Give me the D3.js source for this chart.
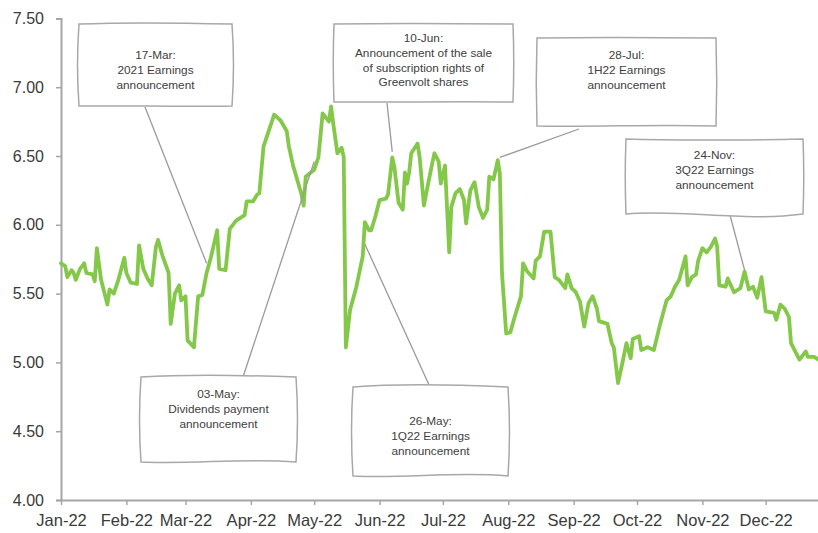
<!DOCTYPE html>
<html>
<head>
<meta charset="utf-8">
<script src="https://cdn.jsdelivr.net/npm/d3@7"></script>
<style>
  html, body { margin: 0; padding: 0; background: #fff; }
  svg { display: block; font-family: "Liberation Sans", Arial, sans-serif; }
</style>
</head>
<body>
<svg id="chart" width="818" height="533"></svg>
<script>
// ---- Data ----
const dates = [
"2022-01-01","2022-01-03","2022-01-04","2022-01-06","2022-01-07","2022-01-08","2022-01-10","2022-01-12","2022-01-13","2022-01-16",
"2022-01-17","2022-01-18","2022-01-20","2022-01-23","2022-01-24","2022-01-26","2022-01-28","2022-01-31","2022-02-01","2022-02-03",
"2022-02-06","2022-02-07","2022-02-09","2022-02-11","2022-02-13","2022-02-15","2022-02-16","2022-02-18","2022-02-21","2022-02-22",
"2022-02-24","2022-02-26","2022-02-27","2022-03-01","2022-03-02","2022-03-05","2022-03-07","2022-03-09","2022-03-11","2022-03-13",
"2022-03-16","2022-03-17","2022-03-20","2022-03-22","2022-03-25","2022-03-29","2022-03-30","2022-04-02","2022-04-04","2022-04-05",
"2022-04-07","2022-04-09","2022-04-12","2022-04-15","2022-04-18","2022-04-19","2022-04-21","2022-04-25","2022-04-26","2022-04-27",
"2022-05-01","2022-05-03","2022-05-05","2022-05-07","2022-05-08","2022-05-09","2022-05-10","2022-05-12","2022-05-14","2022-05-15",
"2022-05-16","2022-05-18","2022-05-21","2022-05-24","2022-05-25","2022-05-27","2022-05-28","2022-05-30","2022-05-31","2022-06-01",
"2022-06-04","2022-06-05","2022-06-07","2022-06-08","2022-06-10","2022-06-12","2022-06-13","2022-06-14","2022-06-15","2022-06-16",
"2022-06-19","2022-06-20","2022-06-22","2022-06-24","2022-06-26","2022-06-27","2022-06-29","2022-06-30","2022-07-02","2022-07-04",
"2022-07-05","2022-07-07","2022-07-09","2022-07-11","2022-07-12","2022-07-14","2022-07-16","2022-07-18","2022-07-20","2022-07-22",
"2022-07-23","2022-07-25","2022-07-27","2022-07-28","2022-07-29","2022-07-31","2022-08-02","2022-08-04","2022-08-07","2022-08-08",
"2022-08-10","2022-08-13","2022-08-14","2022-08-16","2022-08-18","2022-08-21","2022-08-23","2022-08-25","2022-08-28","2022-08-29",
"2022-08-31","2022-09-02","2022-09-04","2022-09-06","2022-09-08","2022-09-10","2022-09-12","2022-09-13","2022-09-17","2022-09-19",
"2022-09-20","2022-09-22","2022-09-24","2022-09-26","2022-09-28","2022-09-29","2022-10-02","2022-10-03","2022-10-06","2022-10-09",
"2022-10-12","2022-10-15","2022-10-17","2022-10-19","2022-10-21","2022-10-24","2022-10-25","2022-10-27","2022-10-29","2022-10-30",
"2022-11-01","2022-11-03","2022-11-05","2022-11-07","2022-11-08","2022-11-09","2022-11-12","2022-11-13","2022-11-16","2022-11-19",
"2022-11-21","2022-11-23","2022-11-25","2022-11-27","2022-11-29","2022-12-01","2022-12-05","2022-12-06","2022-12-08","2022-12-10",
"2022-12-12","2022-12-13","2022-12-16","2022-12-17","2022-12-20","2022-12-21","2022-12-24","2022-12-26","2022-12-30"
];
const prices = [
5.72,5.70,5.62,5.67,5.65,5.60,5.68,5.72,5.65,5.64,
5.59,5.83,5.60,5.42,5.53,5.50,5.59,5.76,5.65,5.58,
5.57,5.85,5.68,5.61,5.56,5.84,5.89,5.78,5.65,5.28,
5.50,5.56,5.45,5.48,5.16,5.11,5.48,5.49,5.65,5.76,
5.96,5.68,5.67,5.97,6.03,6.07,6.17,6.17,6.22,6.23,
6.57,6.66,6.80,6.76,6.68,6.57,6.43,6.22,6.14,6.35,
6.40,6.49,6.81,6.77,6.75,6.86,6.74,6.52,6.56,6.49,
5.11,5.38,5.55,5.77,6.02,5.96,5.96,6.06,6.12,6.18,
6.19,6.22,6.49,6.42,6.16,6.11,6.38,6.30,6.38,6.52,
6.59,6.49,6.14,6.30,6.45,6.52,6.46,6.30,6.43,5.80,
6.13,6.23,6.26,6.18,6.01,6.25,6.31,6.13,6.05,6.11,
6.35,6.33,6.47,6.37,5.65,5.21,5.22,5.33,5.48,5.72,
5.66,5.61,5.74,5.77,5.95,5.95,5.62,5.60,5.54,5.64,
5.54,5.51,5.44,5.26,5.43,5.48,5.39,5.30,5.28,5.14,
5.11,4.85,4.99,5.14,5.03,5.17,5.19,5.09,5.11,5.09,
5.28,5.45,5.48,5.55,5.60,5.77,5.56,5.62,5.64,5.74,
5.83,5.80,5.84,5.90,5.84,5.56,5.55,5.61,5.51,5.54,
5.66,5.53,5.55,5.47,5.62,5.37,5.36,5.31,5.42,5.39,
5.33,5.14,5.05,5.02,5.08,5.04,5.04,5.02,5.02
];
const yTicks = [4.0, 4.5, 5.0, 5.5, 6.0, 6.5, 7.0, 7.5];

// annotations: text lines, target date/value on the series
const noteTexts = [
  ["17-Mar:", "2021 Earnings", "announcement"],
  ["03-May:", "Dividends payment", "announcement"],
  ["10-Jun:", "Announcement of the sale", "of subscription rights of", "Greenvolt shares"],
  ["28-Jul:", "1H22 Earnings", "announcement"],
  ["24-Nov:", "3Q22 Earnings", "announcement"],
  ["26-May:", "1Q22 Earnings", "announcement"]
];
const noteTargetDates = ["2022-03-11", "2022-05-01", "2022-06-07", "2022-07-28", "2022-11-21", "2022-05-25"];
const noteTargetValues = [5.72, 6.46, 6.53, 6.49, 5.67, 5.86];

// ---- Layout (styling / positions, not data) ----
const boxLayout = [
  {x0: 79,  y0: 24,  x1: 232, y1: 106, ty: 55,  ax: 145, ay: 107, wt: 2, wb: -1, ws: 2},
  {x0: 141, y0: 377, x1: 296, y1: 462, ty: 394, ax: 243, ay: 377, wt: 3, wb: 4,  ws: 2},
  {x0: 334, y0: 24,  x1: 513, y1: 102, ty: 38,  ax: 387, ay: 103, wt: 1, wb: 1,  ws: 1},
  {x0: 537, y0: 38,  x1: 716, y1: 126, ty: 55,  ax: 579, ay: 129, wt: 1, wb: 2,  ws: 1},
  {x0: 626, y0: 139, x1: 803, y1: 214, ty: 155, ax: 730, ay: 215, wt: -2, wb: -8, ws: 1},
  {x0: 353, y0: 387, x1: 508, y1: 476, ty: 421, ax: 430, ay: 387, wt: 4, wb: 5,  ws: 2}
];

const svg = d3.select("#chart");
const parse = d3.utcParse("%Y-%m-%d");
const series = dates.map((d, i) => ({date: parse(d), value: prices[i]}));

const x = d3.scaleUtc()
  .domain([parse("2022-01-01"), parse("2022-12-31")])
  .range([61, 829]);
const y = d3.scaleLinear().domain([4, 7.5]).range([500, 18.4]);

const axisColor = "#a6a6a6";
const textColor = "#3a3a3a";

// Y axis
const yAxis = svg.append("g").attr("transform", "translate(61,0)")
  .call(d3.axisLeft(y).tickValues(yTicks).tickFormat(d3.format(".2f")).tickSize(5).tickPadding(12));
yAxis.select(".domain").attr("stroke", axisColor).attr("stroke-width", 2);
yAxis.selectAll(".tick line").attr("stroke", axisColor).attr("stroke-width", 1.5);
yAxis.selectAll(".tick text").attr("fill", textColor).attr("font-size", 16)
  .attr("font-family", "'Liberation Sans', Arial, sans-serif");

// X axis
const xAxis = svg.append("g").attr("transform", "translate(0,500)")
  .call(d3.axisBottom(x).ticks(d3.utcMonth.every(1)).tickFormat(d3.utcFormat("%b-%y")).tickSize(5).tickPadding(9).tickSizeOuter(0));
xAxis.select(".domain").attr("stroke", axisColor).attr("stroke-width", 2);
xAxis.selectAll(".tick line").attr("stroke", axisColor).attr("stroke-width", 1.5);
xAxis.selectAll(".tick text").attr("fill", textColor).attr("font-size", 16.5)
  .attr("font-family", "'Liberation Sans', Arial, sans-serif");

// Line
const line = d3.line().x(d => x(d.date)).y(d => y(d.value));
svg.append("path").datum(series)
  .attr("d", line)
  .attr("fill", "none")
  .attr("stroke", "#84c84a")
  .attr("stroke-width", 3.8)
  .attr("stroke-linejoin", "round")
  .attr("stroke-linecap", "round");

// Annotations
function wobblyBox(b) {
  const {x0, y0, x1, y1, wt, wb, ws} = b;
  const w = x1 - x0, h = y1 - y0;
  return `M${x0},${y0}` +
    ` C${x0 + w * 0.33},${y0 - wt} ${x0 + w * 0.66},${y0 - wt * 0.6} ${x1},${y0}` +
    ` C${x1 + ws},${y0 + h * 0.33} ${x1 + ws},${y0 + h * 0.66} ${x1},${y1}` +
    ` C${x0 + w * 0.66},${y1 - wb} ${x0 + w * 0.33},${y1 + wb * 0.6} ${x0},${y1}` +
    ` C${x0 - ws},${y0 + h * 0.66} ${x0 - ws},${y0 + h * 0.33} ${x0},${y0} Z`;
}

const notes = svg.append("g");
noteTexts.forEach((lines, i) => {
  const b = boxLayout[i];
  const tx = x(parse(noteTargetDates[i]));
  const ty = y(noteTargetValues[i]);
  notes.append("line")
    .attr("x1", b.ax).attr("y1", b.ay).attr("x2", tx).attr("y2", ty)
    .attr("stroke", "#9a9a9a").attr("stroke-width", 1.3);
  notes.append("path")
    .attr("d", wobblyBox(b))
    .attr("fill", "#fff")
    .attr("stroke", "#a8a8a8")
    .attr("stroke-width", 1.5);
  const cx = (b.x0 + b.x1) / 2;
  const t = notes.append("text")
    .attr("text-anchor", "middle")
    .attr("font-size", 11.8)
    .attr("fill", "#404040");
  lines.forEach((s, j) => {
    t.append("tspan").attr("x", cx).attr("y", b.ty + j * 14.7).attr("dy", "0.35em").text(s);
  });
});
</script>
</body>
</html>
